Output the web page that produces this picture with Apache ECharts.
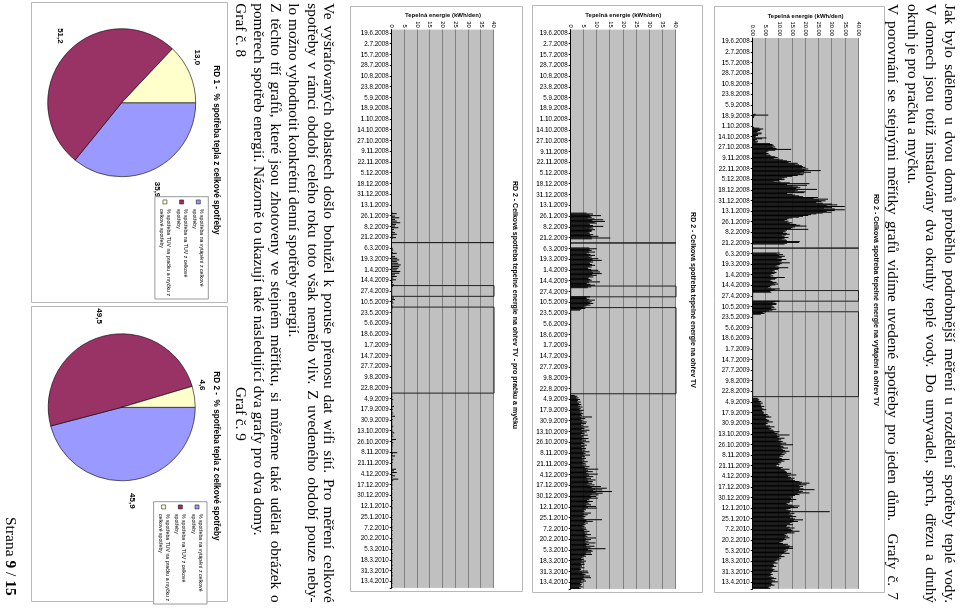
<!DOCTYPE html>
<html><head><meta charset="utf-8">
<script src="https://cdn.jsdelivr.net/npm/echarts@6/dist/echarts.min.js"></script>
<style>
html,body{margin:0;padding:0;background:#fff;width:960px;height:610px;overflow:hidden;}
#page{position:absolute;left:0;top:0;width:610px;height:960px;transform-origin:0 0;transform:translate(960px,0) rotate(90deg);background:#fff;}
#chart{position:absolute;left:0;top:0;width:610px;height:960px;}
.ln{position:absolute;font-family:"Liberation Serif","Times New Roman",serif;font-size:15.3px;line-height:19px;height:19px;white-space:nowrap;color:#000;}
.j{text-align:justify;text-align-last:justify;white-space:normal;}
</style></head><body>
<div id="page">
<div id="chart"></div>
<div class="ln j" style="left:4px;top:-0.5px;width:599px">Jak bylo sděleno u dvou domů proběhlo podrobnější měření u rozdělení spotřeby teplé vody.</div>
<div class="ln j" style="left:4px;top:18.8px;width:599px">V domech jsou totiž instalovány dva okruhy teplé vody. Do umyvadel, sprch, dřezu a druhý</div>
<div class="ln" style="left:4px;top:37.2px">okruh je pro pračku a myčku.</div>
<div class="ln j" style="left:4px;top:56.5px;width:596px">V porovnání se stejnými měřítky grafů vidíme uvedené spotřeby pro jeden dům.&nbsp; Grafy č. 7</div>

<div class="ln j" style="left:3.3px;top:620.5px;width:599.4px">Ve vyšrafovaných oblastech došlo bohužel k poruše přenosu dat wifi sítí. Pro měření celkové</div>
<div class="ln j" style="left:3.3px;top:637.2px;width:599.4px">spotřeby v rámci období celého roku toto však nemělo vliv. Z uvedeného období pouze neby-</div>
<div class="ln" style="left:3.3px;top:655.5px">lo možno vyhodnotit konkrétní denní spotřeby energií.</div>
<div class="ln j" style="left:3.3px;top:673.8px;width:599.4px">Z těchto tří grafů, které jsou zhotoveny ve stejném měřítku, si můžeme také udělat obrázek o</div>
<div class="ln" style="left:3.3px;top:691.2px">poměrech spotřeb energií. Názorně to ukazují také následující dva grafy pro dva domy.</div>
<div class="ln" style="left:3.3px;top:708.8px">Graf č. 8</div>
<div class="ln" style="left:387px;top:708.8px">Graf č. 9</div>

<div class="ln" style="left:517px;top:938.5px;font-size:15.5px;">Strana <b>9</b> / <b>15</b></div>
</div>
<script>
// ---------- categories (daily) ----------
const startDate = Date.UTC(2008, 5, 15);
const dayCount = 675;
const categories = [];
for (let i = 0; i < dayCount; i++) {
  const d = new Date(startDate + i * 86400000);
  categories.push(d.getUTCDate() + '.' + (d.getUTCMonth() + 1) + '.' + d.getUTCFullYear());
}
const dateTickLabels = ['19.6.2008','2.7.2008','15.7.2008','28.7.2008','10.8.2008','23.8.2008','5.9.2008','18.9.2008','1.10.2008','14.10.2008','27.10.2008','9.11.2008','22.11.2008','5.12.2008','18.12.2008','31.12.2008','13.1.2009','26.1.2009','8.2.2009','21.2.2009','6.3.2009','19.3.2009','1.4.2009','14.4.2009','27.4.2009','10.5.2009','23.5.2009','5.6.2009','18.6.2009','1.7.2009','14.7.2009','27.7.2009','9.8.2009','22.8.2009','4.9.2009','17.9.2009','30.9.2009','13.10.2009','26.10.2009','8.11.2009','21.11.2009','4.12.2009','17.12.2009','30.12.2009','12.1.2010','25.1.2010','7.2.2010','20.2.2010','5.3.2010','18.3.2010','31.3.2010','13.4.2010'];
const gapPeriods = [['23.2.2009','4.3.2009'],['23.4.2009','2.5.2009'],['20.5.2009','29.8.2009']];

// ---------- RD2 total (heating + DHW), kWh/day ----------
const totalStart = ['15.9.2008','5.3.2009','3.5.2009','30.8.2009'];
const totalAutumn2008 = [0,1.2,5.9,0.8,0.5,0.4,0,0,0,0,0,0,0,0,0,0,0,0.6,2.5,4.0,3.0,2.8,1.9,1.5,3.4,3.2,2.1,2.0,1.2,1.0,5.2,3.5,1.5,1.0,2.0,1.2,1.8,6.5,7.5,8.0,7.2,8.5,7.8,9.0,14.6,8.5,6.0,5.5,5.0,6.0,5.2,6.5,7.0,8.5,9.5,8.0,10.0,11.5,13.0,14.5,13.5,17.0,16.0,17.5,18.5,19.0,20.0,18.5,21.0,20.0,25.7,19.5,22.0,18.0,19.5,19.0,17.0,15.0,13.0,12.0,11.0,12.0,10.0,8.0,10.5,14.0,21.5,13.0,20.5,15.0,17.0,18.0,16.5,24.3,17.0,16.0,20.0,19.5,13.0,15.0,16.0,17.5,19.0,24.7,23.0,28.5,25.0,27.5,26.0,24.0,26.5,30.0,32.0,28.0,34.8,30.0,27.0,31.0,34.8,31.0,28.0,29.8,26.5,24.0,22.0,21.0,19.0,17.5,15.0,13.5,13.0,12.0,13.5,13.0,15.0,14.0,16.5,18.0,20.3,16.0,15.0,14.5,21.0,13.0,12.0,12.5,11.5,13.0,14.0,12.5,11.0,12.0,13.5,12.0,11.0,12.5,13.0,17.8,17.5,13.0,12.0];
const totalSpring2009 = [10.2,9.0,11.5,10.0,12.1,11.0,10.9,9.5,12.7,11.0,10.9,9.8,14.0,11.0,10.2,9.0,9.6,8.5,13.4,10.0,9.6,8.0,8.4,7.5,9.0,8.2,7.1,6.5,7.8,6.8,12.1,9.0,8.4,7.0,6.5,7.5,9.0,8.0,9.6,8.5,7.1,6.5,5.9,7.0,10.2,8.5,7.8,6.5,7.0];
const totalMay2009 = [10.1,8.5,7.6,9.0,8.9,7.5,7.0,8.0,8.2,7.0,8.9,7.5,6.3,5.0,3.8,4.5,3.0];
const totalSeason2009 = [1.8,2.2,2.5,2.1,3.2,2.7,3.8,2.9,3.2,3.0,4.4,3.3,3.5,4.1,5.1,3.5,3.8,4.2,4.4,4.0,5.7,5.0,6.2,7.0,5.1,4.8,5.5,6.3,6.0,7.6,5.2,5.7,4.8,5.1,6.5,8.2,6.0,7.0,6.4,7.6,8.0,10.1,8.2,9.5,9.0,13.9,9.2,10.1,9.5,12.0,10.0,10.8,9.7,11.4,10.5,12.7,11.0,15.2,10.5,11.4,11.8,13.3,10.8,11.4,12.2,13.9,11.5,12.7,11.0,12.0,10.5,11.4,10.0,10.1,11.0,13.9,11.3,12.0,10.4,10.8,9.6,10.1,9.0,8.9,9.8,11.4,10.6,13.9,11.8,12.2,12.7,13.0,14.6,13.2,16.5,14.0,13.3,14.5,15.8,14.0,15.2,16.0,17.7,18.5,21.5,18.2,20.3,17.6,19.0,18.0,17.7,19.2,23.4,17.5,19.0,18.3,21.5,17.0,17.7,16.0,15.2,14.0,15.2,14.5,16.5,14.2,15.2,14.0,13.9,12.8,13.3,15.0,17.7,15.6,17.1,14.3,12.7,13.5,14.5,29.1,14.0,15.8,13.6,14.6,15.0,16.5,14.1,15.2,16.0,19.0,15.5,17.1,14.8,13.9,14.2,15.2,13.0,12.7,14.0,15.8,13.5,14.6,15.0,17.7,14.5,15.8,13.0,12.0,12.6,13.3,12.2,13.9,12.0,12.7,11.6,11.4,10.8,10.1,11.5,13.3,12.5,14.0,15.2,13.8,15.2,12.5,13.3,11.8,12.7,12.0,13.9,11.2,10.1,10.8,12.0,10.0,10.8,9.3,10.1,9.0,8.2,8.6,9.5,8.0,7.6,8.1,8.9,7.6,7.0,7.5,8.2,7.8,9.5,7.3,7.0,6.6,7.6,6.8,6.3,7.2,8.0,8.9,7.1,7.6,8.4,9.5,7.2,7.0,7.5,8.2,6.9,6.3,6.0,6.6];

// ---------- RD2 DHW heating ----------
const dhwStart = ['22.1.2009','5.3.2009','3.5.2009','30.8.2009'];
const dhwWinter2009 = [6.0,8.5,7.0,11.5,7.5,8.0,6.5,9.0,12.4,8.2,13.0,9.0,9.9,7.0,7.3,8.5,12.4,7.8,8.6,7.2,9.2,8.0,7.9,6.8,7.3,7.0,8.6,7.5,10.5,8.0,15.0,8.0];
const dhwSpring2009 = [7.0,9.9,7.2,8.0,6.8,9.2,7.0,6.1,7.5,9.2,6.9,8.0,7.4,10.5,8.3,11.8,7.7,8.6,7.0,7.3,8.1,9.2,7.2,8.0,6.5,6.7,7.8,10.5,8.0,11.1,8.5,11.8,8.2,9.9,7.5,8.6,6.9,6.7,7.4,8.0,6.8,11.1,7.0,6.1,7.5,9.2,6.6,7.8,6.5];
const dhwMay2009 = [7.3,6.0,6.1,7.0,9.2,6.5,8.0,7.2,8.6,6.8,7.5,6.0,5.2,4.8,5.5,4.0,3.5];
const dhwSeason2009 = [1.5,2.5,2.0,3.0,2.2,3.5,2.8,2.4,3.8,2.6,3.2,4.0,2.9,3.5,4.5,3.0,3.8,3.3,5.0,3.6,4.2,3.4,4.8,3.9,4.4,3.5,8.1,4.0,5.5,3.8,4.6,4.2,6.1,4.5,5.8,3.9,4.8,4.0,6.8,4.6,5.2,4.1,7.1,4.8,6.1,4.4,5.2,3.8,6.5,4.7,5.0,4.2,6.8,4.5,5.8,4.0,7.1,4.6,5.2,3.9,6.1,4.8,5.3,4.1,5.8,4.4,5.5,4.3,7.1,4.9,5.6,4.7,7.3,5.0,5.4,4.2,5.8,4.5,5.2,4.3,6.5,4.6,5.6,4.4,5.9,4.8,7.1,5.3,6.4,10.5,5.8,6.6,8.4,5.9,6.8,10.3,6.2,7.0,8.6,6.0,7.7,6.4,9.4,6.5,8.4,6.8,8.1,6.3,9.0,7.2,11.5,8.0,13.7,9.2,12.0,8.5,15.7,9.5,12.2,8.0,10.6,7.4,9.6,7.8,10.3,6.9,7.1,6.2,8.4,6.5,7.0,5.8,7.7,6.0,9.6,6.6,9.9,5.5,5.8,4.9,5.2,4.6,7.7,5.0,6.5,4.8,5.6,4.5,5.2,4.7,11.9,6.0,8.4,5.4,6.5,4.9,5.6,4.6,5.2,4.4,5.8,4.8,6.0,5.0,7.1,5.2,6.3,5.4,7.7,5.6,6.4,5.3,9.6,5.8,7.7,5.6,6.8,5.4,9.4,6.0,7.0,5.8,9.0,6.2,7.5,13.2,6.6,7.9,8.4,6.0,7.7,5.7,8.1,5.2,5.8,4.3,4.6,3.9,5.0,4.2,5.8,4.0,5.1,3.8,5.2,4.1,4.3,3.6,5.2,3.7,3.9,3.4,6.5,4.2,6.8,4.5,5.6,4.8,7.3,5.0,7.7,4.6,5.2,4.0,5.8,3.9,4.6,3.5,4.2,3.9,3.4,4.6,3.2,3.8];

// ---------- RD2 DHW for washing machine + dishwasher ----------
const applStart = ['22.1.2009','5.3.2009','3.5.2009','30.8.2009'];
const applWinter2009 = [0.3,2.0,0.2,0,1.3,0.4,3.0,0,1.3,0.2,2.0,0,3.3,0.3,1.7,0,1.3,0.2,2.6,0,0.9,0.3,0,0.4,1.3,0,2.0,0.2,0.65,0,1.7,0.3];
const applSpring2009 = [0,0.4,0,0.65,0.2,0,0.5,2.0,0,0.3,0,1.3,0.2,2.2,0,3.0,0.3,2.0,0,2.6,0.2,3.5,0,3.0,0.3,2.6,0,2.0,0.2,3.3,0,3.0,0.3,1.3,0,2.0,0.2,0.65,0,1.7,0.3,0,0.5,0,0.2,0.8,0,0.4,0];
const applMay2009 = [0.3,0,0.9,0.2,1.3,0,0.4,0,0.7,0.2,0,0.3,0,0.5,0,0.2,0];
const applSeason2009 = [0.2,0,0.3,0,0.2,0,0.65,0,0.2,0,0.4,0,0.2,0,0.9,0,0.3,0,0.4,0,0.2,0,0.65,0,0.3,0,1.3,0,0.2,0,0.4,0,0.2,0,0.3,0,0.2,0,0.65,0,0.3,0,0.2,0,0.4,0,1.0,0,0.3,0,0.65,0,0.2,0,1.7,0.3,0,0.2,0.65,0,0.3,0,0.4,0,0.2,0,0.3,0,0.2,0,2.2,0.4,0,0.3,1.3,0,0.2,0,0.65,0,0.3,0,0.4,0,0.2,0,0.3,0,0.2,0,1.7,0.3,0.9,0,2.0,0.2,0,0.4,1.3,0,0.3,0,2.6,0.3,0.65,0,0.2,0,0.3,0,0.3,0,0.2,0,0.4,0.1,0,0.2,0,0.3,0,0.2,0.1,0,0.3,0,0.2,0,0.5,0,0.2,0,0.3,0.1,0,0.2,0,0.4,0,0.2,0.1,0,0.3,0,0.2,0,0.3,0,0.2,0.1,0,0.4,0,0.2,0,0.3,0.1,0,0.2,0,0.3,0,0.2,0,0.4,0.1,0,0.2,0,0.3,0,0.2,0.1,0,0.3,0,0.2,0,0.4,0,0.2,0.1,0,0.3,0,0.2,0,0.3,0.1,0,0.2,0,0.4,0,0.2,0,0.3,0.1,0,0.2,0,0.3,0,0.2,0.1,0,0.4,0,0.2,0,0.3,0,0.2,0.1,0,0.3,0,0.2,0,0.4,0.1,0,0.2,0,0.3,0,0.2,0,0.3,0.1,0,0.2,0,0.3];

// ---------- pies ----------
const pieNames = ['% spotřeba na vytápění z celkové spotřeby','% spotřeba na TUV z celkové spotřeby','% spotřeba TUV na pračku a myčku z celkové spotřeby'];
const legendLines = ['% spotřeba na vytápění z celkové\nspotřeby','% spotřeba na TUV z celkové\nspotřeby','% spotřeba TUV na pračku a myčku z\ncelkové spotřeby'];
const rd1Shares = [35.9, 51.2, 13.0];
const rd2Shares = [45.9, 49.5, 4.6];
const pieColors = ['#9999FF', '#993366', '#FFFFCC'];

// ---------- build ----------
function buildDaily(starts, segs) {
  const arr = new Array(dayCount).fill(null);
  segs.forEach((vals, k) => {
    const s = categories.indexOf(starts[k]);
    vals.forEach((v, j) => { if (s + j < dayCount) arr[s + j] = v; });
  });
  return arr;
}
const totalDaily = buildDaily(totalStart, [totalAutumn2008, totalSpring2009, totalMay2009, totalSeason2009]);
const dhwDaily = buildDaily(dhwStart, [dhwWinter2009, dhwSpring2009, dhwMay2009, dhwSeason2009]);
const applDaily = buildDaily(applStart, [applWinter2009, applSpring2009, applMay2009, applSeason2009]);

const tickSet = new Set(dateTickLabels);
const isTick = (i, v) => tickSet.has(v);
const FONT = '"Liberation Sans", Arial, sans-serif';

const grids = [
  {left: 38, top: 101.5, width: 550.8, height: 105.8},
  {left: 29.6, top: 284, width: 559.3, height: 105.3},
  {left: 29.6, top: 466, width: 558.3, height: 102.3}
];
const valueFmt = [v => v.toFixed(2), v => String(v), v => String(v)];
const barData = [totalDaily, dhwDaily, applDaily];

const option = {
  animation: false,
  color: pieColors,
  textStyle: {fontFamily: FONT},
  grid: grids.map(g => Object.assign({show: true, backgroundColor: '#C0C0C0', borderWidth: 0}, g)),
  xAxis: grids.map((g, i) => ({
    type: 'category', gridIndex: i, data: categories,
    axisLine: {lineStyle: {color: '#000', width: 1}},
    axisTick: {show: true, interval: isTick, length: 2, lineStyle: {color: '#000'}},
    axisLabel: {interval: isTick, rotate: 90, fontSize: 6.3, color: '#000', margin: 3, fontFamily: FONT}
  })),
  yAxis: grids.map((g, i) => ({
    type: 'value', gridIndex: i, min: 0, max: 40, interval: 5,
    axisLine: {show: false}, axisTick: {show: false},
    splitLine: {lineStyle: {color: '#808080', width: 1}},
    axisLabel: {fontSize: 5.8, color: '#000', margin: 2, formatter: valueFmt[i], fontFamily: FONT}
  })),
  legend: [
    {left: 196.7, top: 751.7},
    {left: 501.7, top: 753}
  ].map(p => Object.assign({
    orient: 'vertical', selectedMode: false,
    data: pieNames.map((n, k) => ({name: n, itemStyle: {color: pieColors[k], borderColor: '#000', borderWidth: 0.5}})),
    formatter: n => legendLines[pieNames.indexOf(n)],
    padding: [3, 3, 3, 3], itemGap: 2.7, itemWidth: 4, itemHeight: 4, icon: 'rect',
    textStyle: {fontSize: 5.2, lineHeight: 7, color: '#000', fontFamily: FONT},
    borderColor: '#999', borderWidth: 1, backgroundColor: '#fff'
  }, p)),
  series: barData.map((d, i) => ({
    type: 'bar', xAxisIndex: i, yAxisIndex: i, data: d, barCategoryGap: '0%',
    itemStyle: {color: '#000'}, silent: true,
    markArea: {
      silent: true,
      itemStyle: {color: 'rgba(0,0,0,0)', borderColor: '#222', borderWidth: 1},
      data: gapPeriods.map(p => [{xAxis: p[0]}, {xAxis: p[1]}])
    }
  })).concat([[102.7, 838.3, 74, rd1Shares], [407.3, 838.3, 73.5, rd2Shares]].map(p => ({
    type: 'pie', center: [p[0], p[1]], radius: p[2], startAngle: 90, clockwise: true,
    avoidLabelOverlap: false, silent: true, color: pieColors,
    data: pieNames.map((n, k) => ({name: n, value: p[3][k], itemStyle: {color: pieColors[k]}})),
    label: {position: 'outside', formatter: q => q.value.toFixed(1).replace('.', ','), fontSize: 8, fontWeight: 'bold', color: '#000', fontFamily: FONT},
    labelLine: {show: false, length: 8, length2: 0},
    itemStyle: {borderColor: '#000', borderWidth: 0.6}
  }))),
  graphic: [
    ...[[6.5,75.5,586,170],[5.5,257.5,587,170],[6.5,437.5,585,172],[2.5,732.5,300,196],[306.5,732.5,295,196]].map(r => ({
      type: 'rect', silent: true, shape: {x: r[0], y: r[1], width: r[2], height: r[3]},
      style: {fill: 'none', stroke: '#b8b8b8', lineWidth: 1}
    })),
    ...[
      [300, 84, 'RD 2 - Celková spotřeba tepelné energie na vytápění a ohřev TV', 7, 0],
      [300, 267, 'RD 2 - Celková spotřeba tepelné energie na ohřev TV', 7, 0],
      [305, 445, 'RD 2 - Celková spotřeba tepelné energie na ohřev TV - pro pračku a myčku', 7, 0],
      [16, 154.4, 'Tepelná energie (kWh/den)', 6, Math.PI / 2],
      [15, 336.7, 'Tepelná energie (kWh/den)', 6, Math.PI / 2],
      [15, 517, 'Tepelná energie (kWh/den)', 6, Math.PI / 2],
      [150, 743.3, 'RD 1 -  % spotřeba tepla z celkové spotřeby', 8.2, 0],
      [456, 743.3, 'RD 2 -  % spotřeba tepla z celkové spotřeby', 8.2, 0]
    ].map(t => ({
      type: 'text', x: t[0], y: t[1], rotation: t[4], silent: true,
      style: {text: t[2], fontSize: t[3], fontWeight: 'bold', fontFamily: FONT, fill: '#000', align: 'center', verticalAlign: 'middle'}
    }))
  ]
};
const chart = echarts.init(document.getElementById('chart'), null, {renderer: 'canvas'});
chart.setOption(option);
</script>
</body></html>
